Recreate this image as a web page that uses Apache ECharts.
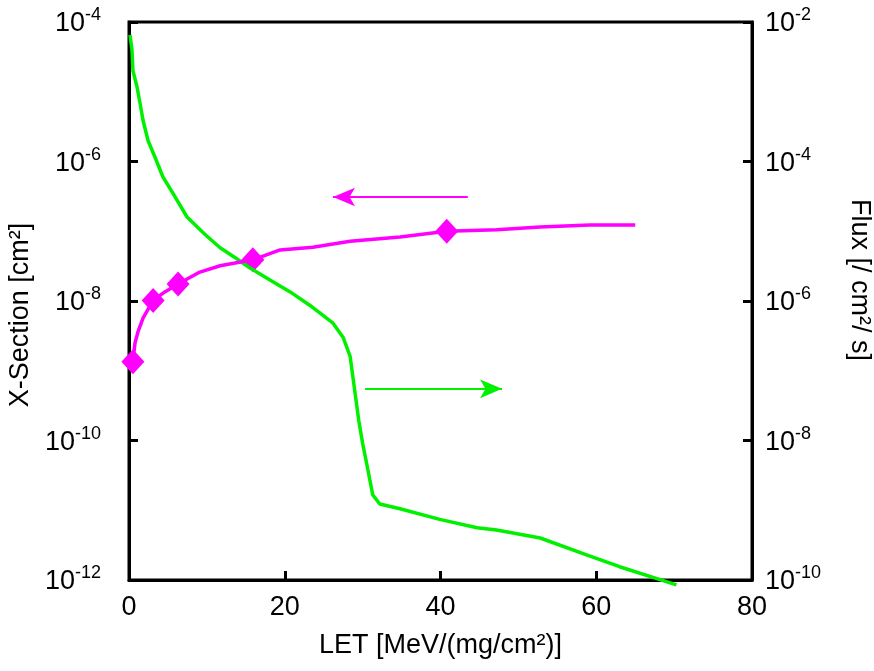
<!DOCTYPE html>
<html>
<head>
<meta charset="utf-8">
<script src="https://cdn.jsdelivr.net/npm/echarts@6/dist/echarts.min.js"></script>
<style>
  html, body { margin: 0; padding: 0; background: #fff; }
  #main { width: 874px; height: 671px; }
</style>
</head>
<body>
<div id="main"></div>
<script>
// flux curve (green, right axis)
var fluxLet = [0.13, 0.38, 0.51, 1.03, 1.41, 1.8, 2.44, 3.34, 4.36, 5.65, 7.45, 9.8, 11.7, 13.6, 15.5, 18.1,
    20.7, 23.2, 26.2, 27.5, 28.4, 28.8, 29.5, 30.0, 30.6, 31.3, 32.2, 34.8, 39.9, 44.7, 47.2, 52.8, 59.2, 63.0, 70.3];
var fluxVal = [6.5e-3, 4.0e-3, 2.0e-3, 1.17e-3, 6.9e-4, 3.9e-4, 2.0e-4, 1.15e-4, 6.0e-5, 3.5e-5, 1.6e-5,
    8.9e-6, 5.8e-6, 4.2e-6, 3.0e-6, 2.0e-6, 1.35e-6, 8.7e-7, 4.8e-7, 3.0e-7, 1.6e-7, 7.4e-8, 1.95e-8,
    9.1e-9, 4.2e-9, 1.66e-9, 1.23e-9, 1.05e-9, 7.4e-10, 5.6e-10, 5.2e-10, 4.0e-10, 2.2e-10, 1.55e-10, 8.5e-11];

// cross-section curve (magenta, left axis)
var xsLet = [0.5, 0.77, 1.15, 1.8, 3.1, 4.6, 6.3, 9.1, 11.7, 15.9, 19.4, 23.6, 28.4, 34.8, 40.8, 47.2, 52.8, 59.2, 65.0];
var xsVal = [1.35e-9, 2.5e-9, 3.6e-9, 5.7e-9, 1.02e-8, 1.35e-8, 1.75e-8, 2.6e-8, 3.2e-8, 3.9e-8, 5.4e-8,
    5.9e-8, 7.2e-8, 8.3e-8, 1.0e-7, 1.05e-7, 1.15e-7, 1.23e-7, 1.23e-7];

// measured points (diamonds)
var measLet = [0.5, 3.1, 6.3, 15.9, 40.8];
var measVal = [1.35e-9, 1.02e-8, 1.75e-8, 3.9e-8, 1.0e-7];

// arrows: [x from, x to, y]
var xsArrow = [43.5, 26.2, 3.1e-7];
var fluxArrow = [30.3, 47.9, 5.5e-8];

function zip(a, b) {
    var out = [];
    for (var i = 0; i < a.length; i++) out.push([a[i], b[i]]);
    return out;
}

var pow10 = function (v) {
    return '{b|10}{s|' + Math.round(Math.log10(v)) + '}';
};
var richLbl = {
    b: { fontSize: 27, fontFamily: 'Liberation Sans', color: '#000', verticalAlign: 'bottom' },
    s: { fontSize: 18, fontFamily: 'Liberation Sans', color: '#000', verticalAlign: 'bottom', padding: [0, 0, 13, 0] }
};
var nameFont = { fontSize: 27, fontFamily: 'Liberation Sans', color: '#000' };
var green = '#00f000';
var magenta = '#ff00ff';

var myChart = echarts.init(document.getElementById('main'));
var option = {
    animation: false,
    backgroundColor: '#fff',
    grid: {
        left: 129, right: 122, top: 22, bottom: 91,
        outerBoundsMode: 'none',
        containLabel: false,
        show: true, borderColor: '#000', borderWidth: 3
    },
    xAxis: {
        type: 'value',
        min: 0, max: 80, interval: 20,
        name: 'LET [MeV/(mg/cm²)]',
        nameLocation: 'middle',
        nameGap: 52,
        nameTextStyle: nameFont,
        axisLine: { lineStyle: { color: '#000', width: 3 } },
        axisTick: { inside: true, length: 9, lineStyle: { width: 3, color: '#000' } },
        axisLabel: { fontSize: 27, fontFamily: 'Liberation Sans', color: '#000', margin: 14 },
        splitLine: { show: false }
    },
    yAxis: [{
        type: 'log',
        logBase: 100,
        min: 1e-12, max: 1e-4,
        position: 'left',
        name: 'X-Section [cm²]',
        nameLocation: 'middle',
        nameGap: 87,
        nameTextStyle: Object.assign({ padding: [0, 28, 0, 0] }, nameFont),
        axisLine: { lineStyle: { color: '#000', width: 3 } },
        axisTick: { inside: true, length: 9, lineStyle: { width: 3, color: '#000' } },
        axisLabel: { formatter: pow10, rich: richLbl, margin: 28 },
        splitLine: { show: false }
    }, {
        type: 'log',
        logBase: 100,
        min: 1e-10, max: 1e-2,
        position: 'right',
        name: 'Flux [/ cm²/ s]',
        nameLocation: 'middle',
        nameRotate: -90,
        nameGap: 94,
        nameTextStyle: Object.assign({ padding: [0, 42, 0, 0] }, nameFont),
        axisLine: { lineStyle: { color: '#000', width: 3 } },
        axisTick: { inside: true, length: 9, lineStyle: { width: 3, color: '#000' } },
        axisLabel: { formatter: pow10, rich: richLbl, margin: 13 },
        splitLine: { show: false }
    }],
    series: [{
        name: 'flux',
        type: 'line',
        yAxisIndex: 1,
        data: zip(fluxLet, fluxVal),
        showSymbol: false,
        clip: false,
        lineStyle: { color: green, width: 3.5 },
        itemStyle: { color: green },
        markLine: {
            silent: true,
            symbol: ['none', 'arrow'],
            symbolSize: [14, 22],
            label: { show: false },
            lineStyle: { color: green, width: 2, type: 'solid' },
            data: [[{ coord: [fluxArrow[0], fluxArrow[2]] }, { coord: [fluxArrow[1], fluxArrow[2]] }]]
        }
    }, {
        name: 'xs',
        type: 'line',
        yAxisIndex: 0,
        data: zip(xsLet, xsVal),
        showSymbol: false,
        lineStyle: { color: magenta, width: 3.5 },
        itemStyle: { color: magenta },
        markLine: {
            silent: true,
            symbol: ['none', 'arrow'],
            symbolSize: [14, 22],
            label: { show: false },
            lineStyle: { color: magenta, width: 2, type: 'solid' },
            data: [[{ coord: [xsArrow[0], xsArrow[2]] }, { coord: [xsArrow[1], xsArrow[2]] }]]
        }
    }, {
        name: 'meas',
        type: 'scatter',
        yAxisIndex: 0,
        data: zip(measLet, measVal),
        symbol: 'diamond',
        symbolSize: [23, 25],
        itemStyle: { color: magenta, opacity: 1 },
        clip: false
    }]
};
myChart.setOption(option);
</script>
</body>
</html>
